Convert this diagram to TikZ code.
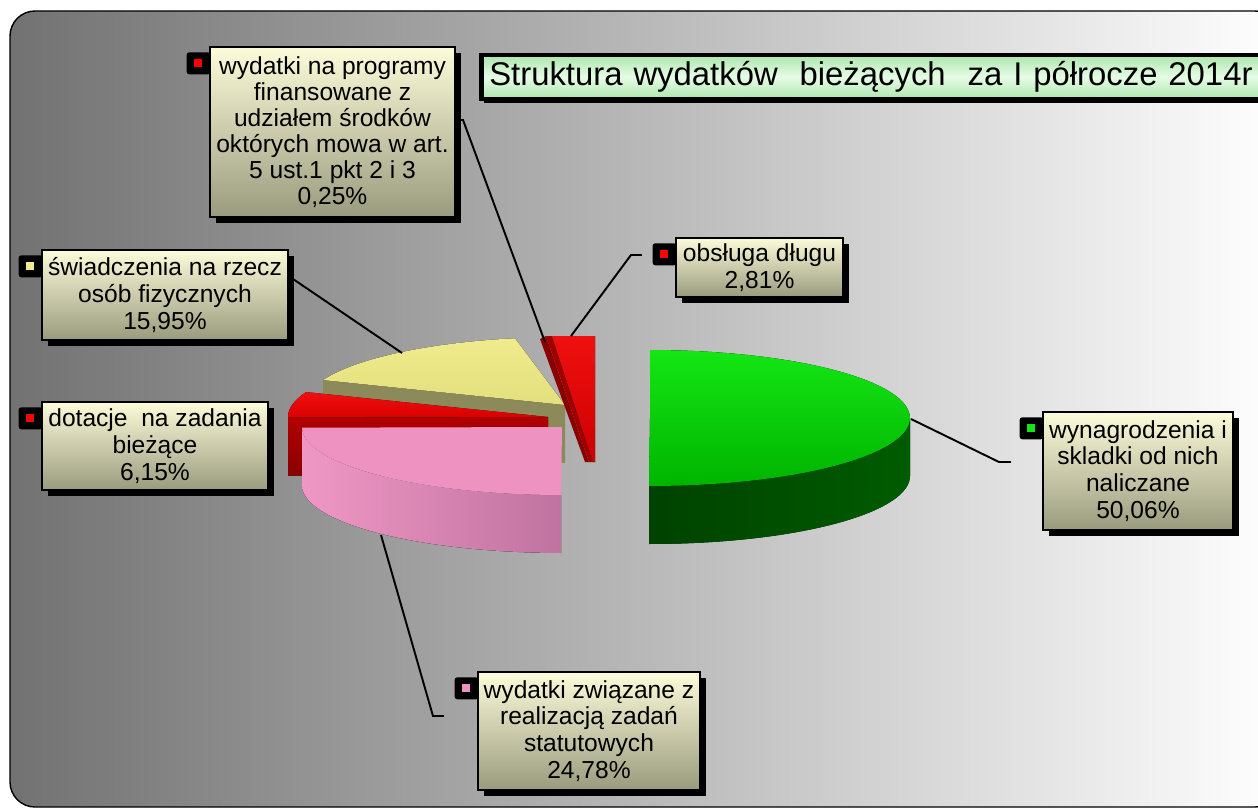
\documentclass[tikz,border=0pt]{standalone}
\usepackage{fontspec}
\setmainfont{Liberation Sans}
\usetikzlibrary{shadows,positioning}

\definecolor{bgdark}{HTML}{727272}
\definecolor{boxtop}{HTML}{FCFCDA}
\definecolor{boxbot}{HTML}{9A9A7E}
\definecolor{titlegreen}{HTML}{ACE6AC}
\definecolor{titlelight}{HTML}{E6FCE6}
\definecolor{grtop}{HTML}{14E614}
\definecolor{grbot}{HTML}{00B400}
\definecolor{grside}{HTML}{005C00}
\definecolor{grsidedark}{HTML}{004200}
\definecolor{pinktop}{HTML}{EE92C2}
\definecolor{pinkside}{HTML}{C073A0}
\definecolor{yeltop}{HTML}{F0EC8E}
\definecolor{yelside}{HTML}{8C8A5A}
\definecolor{redtop}{HTML}{F01010}
\definecolor{reddark}{HTML}{8A0000}

\pgfdeclarelayer{background}
\pgfdeclarelayer{keys}
\pgfsetlayers{background,keys,main}

\tikzset{
  labelbox/.style={draw=black, line width=1.2pt, top color=boxtop, bottom color=boxbot,
    align=center, font=\fontsize{14}{15.3}\selectfont, inner sep=0pt,
    drop shadow={shadow xshift=0.12cm, shadow yshift=-0.12cm, fill=black, opacity=1}},
  titlebox/.style={draw=black, line width=2.6pt, top color=titlegreen, bottom color=titlegreen,
    middle color=titlelight, font=\fontsize{18.7}{22}\selectfont, align=left,
    text width=16.4cm, inner xsep=0.16cm, minimum height=0.88cm,
    drop shadow={shadow xshift=0.06cm, shadow yshift=-0.08cm, fill=black, opacity=1}},
  keybox/.style={fill=black, rounded corners=1.5pt, minimum width=0.48cm,
    minimum height=0.44cm, inner sep=0pt, anchor=north east},
  keydot/.style={minimum size=0.16cm, inner sep=0pt},
  leader/.style={draw=black, line width=1.1pt},
}

\begin{document}
\begin{tikzpicture}[x=0.02cm, y=-0.02cm]
  \useasboundingbox (0,0) rectangle (1258,811);

  % panel with grey to white shading
  \begin{pgfonlayer}{background}
    \fill[white] (0,0) rectangle (1258,811);
    \draw[black, line width=0.8pt, rounded corners=0.5cm, left color=bgdark, right color=white]
      (10,11) rectangle (1280,807);
  \end{pgfonlayer}

  % swiadczenia (yellow), back slice
  \begin{scope}[shift={(565,405)}]
    \fill[yelside] (0,0) -- ({260*sin(291.5)},{-68*cos(291.5)}) -- ++(0,58) -- (0,58) -- cycle;
    \fill[top color=yeltop, bottom color=yeltop!88!olive] (0,0)
      -- plot[domain=291.5:348.9, variable=\t, samples=40] ({260*sin(\t)},{-68*cos(\t)}) -- cycle;
  \end{scope}

  % dotacje (red)
  \begin{scope}[shift={(548,417)}]
    \fill[top color=red!70!black, bottom color=reddark] (0,0)
      -- ({260*sin(269.4)},{-68*cos(269.4)}) -- ++(0,58) -- (0,58) -- cycle;
    \fill[top color=redtop, bottom color=red!85!black] (0,0)
      -- plot[domain=269.4:291.5, variable=\t, samples=30] ({260*sin(\t)},{-68*cos(\t)}) -- cycle;
  \end{scope}

  % wydatki zwiazane (pink)
  \begin{scope}[shift={(562,427)}]
    \fill[left color=pinktop!95!white, right color=pinkside]
      plot[domain=180.2:269.4, variable=\t, samples=40] ({260*sin(\t)},{-68*cos(\t)})
      -- plot[domain=269.4:180.2, variable=\t, samples=40] ({260*sin(\t)},{58-68*cos(\t)}) -- cycle;
    \fill[pinktop] (0,0)
      -- plot[domain=180.2:269.4, variable=\t, samples=40] ({260*sin(\t)},{-68*cos(\t)}) -- cycle;
  \end{scope}

  % programy and obsluga dlugu (thin red slices)
  \fill[reddark] (540,339) -- (546,336) -- (589,462) -- (585,462) -- cycle;
  \fill[red!62!black] (546,336) -- (552,336) -- (593,462) -- (589,462) -- cycle;
  \fill[top color=redtop, bottom color=red!80!black] (552,336) -- (595,336) -- (595,462) -- (593,462) -- cycle;

  % wynagrodzenia (green)
  \begin{scope}[shift={(650,418)}]
    \fill[left color=grsidedark, right color=grside]
      plot[domain=90:180.2, variable=\t, samples=40] ({260*sin(\t)},{-68*cos(\t)})
      -- plot[domain=180.2:90, variable=\t, samples=40] ({260*sin(\t)},{58-68*cos(\t)}) -- cycle;
    \fill[top color=grtop, bottom color=grbot] (0,0)
      -- plot[domain=0:180.2, variable=\t, samples=50] ({260*sin(\t)},{-68*cos(\t)}) -- cycle;
  \end{scope}

  \coordinate (tipprog) at (545,342);
  \coordinate (tipobsl) at (571,336);
  \coordinate (tipswiad) at (402,353);
  \coordinate (tipwyn) at (911,419);
  \coordinate (tipzw) at (381,535);

  % title
  \node[titlebox, anchor=west] (title) at (479,77)
    {Struktura wydatków\ \ bieżących\ \ za I półrocze 2014r};

  % data labels
  \node[labelbox, minimum width=4.9cm, minimum height=3.4cm,
    font=\fontsize{14}{14.8}\selectfont] (prog) at (332.5,132)
    {wydatki na programy\\finansowane z\\udziałem środków\\októrych mowa w art.\\5 ust.1 pkt 2 i 3\\0,25\%};
  \node[labelbox, minimum width=3.34cm, minimum height=1.18cm] (obsl) at (759.5,267.5)
    {obsługa długu\\2,81\%};
  \node[labelbox, minimum width=4.92cm, minimum height=1.8cm] (swiad) at (165,295)
    {świadczenia na rzecz\\osób fizycznych\\15,95\%};
  \node[labelbox, minimum width=4.52cm, minimum height=1.76cm] (dot) at (155,446)
    {dotacje\ \ na zadania\\bieżące\\6,15\%};
  \node[labelbox, minimum width=3.8cm, minimum height=2.36cm] (wyn) at (1138,471)
    {wynagrodzenia i\\skladki od nich\\naliczane\\50,06\%};
  \node[labelbox, minimum width=4.44cm, minimum height=2.36cm] (zw) at (589,731)
    {wydatki związane z\\realizacją zadań\\statutowych\\24,78\%};

  % legend keys behind the labels
  \begin{pgfonlayer}{keys}
    \node[keybox] at ([xshift=0.04cm,yshift=-0.12cm]prog.north west) {};
    \node[keydot, fill=red] at ([xshift=-0.22cm,yshift=-0.34cm]prog.north west) {};
    \node[keybox] at ([xshift=0.04cm,yshift=-0.12cm]obsl.north west) {};
    \node[keydot, fill=red] at ([xshift=-0.22cm,yshift=-0.34cm]obsl.north west) {};
    \node[keybox] at ([xshift=0.04cm,yshift=-0.12cm]swiad.north west) {};
    \node[keydot, fill=yeltop] at ([xshift=-0.22cm,yshift=-0.34cm]swiad.north west) {};
    \node[keybox] at ([xshift=0.04cm,yshift=-0.12cm]dot.north west) {};
    \node[keydot, fill=red] at ([xshift=-0.22cm,yshift=-0.34cm]dot.north west) {};
    \node[keybox] at ([xshift=0.04cm,yshift=-0.12cm]wyn.north west) {};
    \node[keydot, fill=grtop] at ([xshift=-0.22cm,yshift=-0.34cm]wyn.north west) {};
    \node[keybox] at ([xshift=0.04cm,yshift=-0.12cm]zw.north west) {};
    \node[keydot, fill=pinktop] at ([xshift=-0.22cm,yshift=-0.34cm]zw.north west) {};
  \end{pgfonlayer}

  % leader lines
  \draw[leader] ([yshift=0.24cm]prog.east) -- ++(0.14cm,0) -- (tipprog);
  \draw[leader] ([xshift=-0.66cm,yshift=0.25cm]obsl.west) -- ++(-0.22cm,0) -- (tipobsl);
  \draw[leader] ([yshift=0.32cm]swiad.east) -- ++(0.08cm,0) -- (tipswiad);
  \draw[leader] ([xshift=-0.62cm,yshift=0.18cm]wyn.west) -- ++(-0.24cm,0) -- (tipwyn);
  \draw[leader] ([xshift=-0.66cm,yshift=0.3cm]zw.west) -- ++(-0.22cm,0) -- (tipzw);
\end{tikzpicture}
\end{document}
